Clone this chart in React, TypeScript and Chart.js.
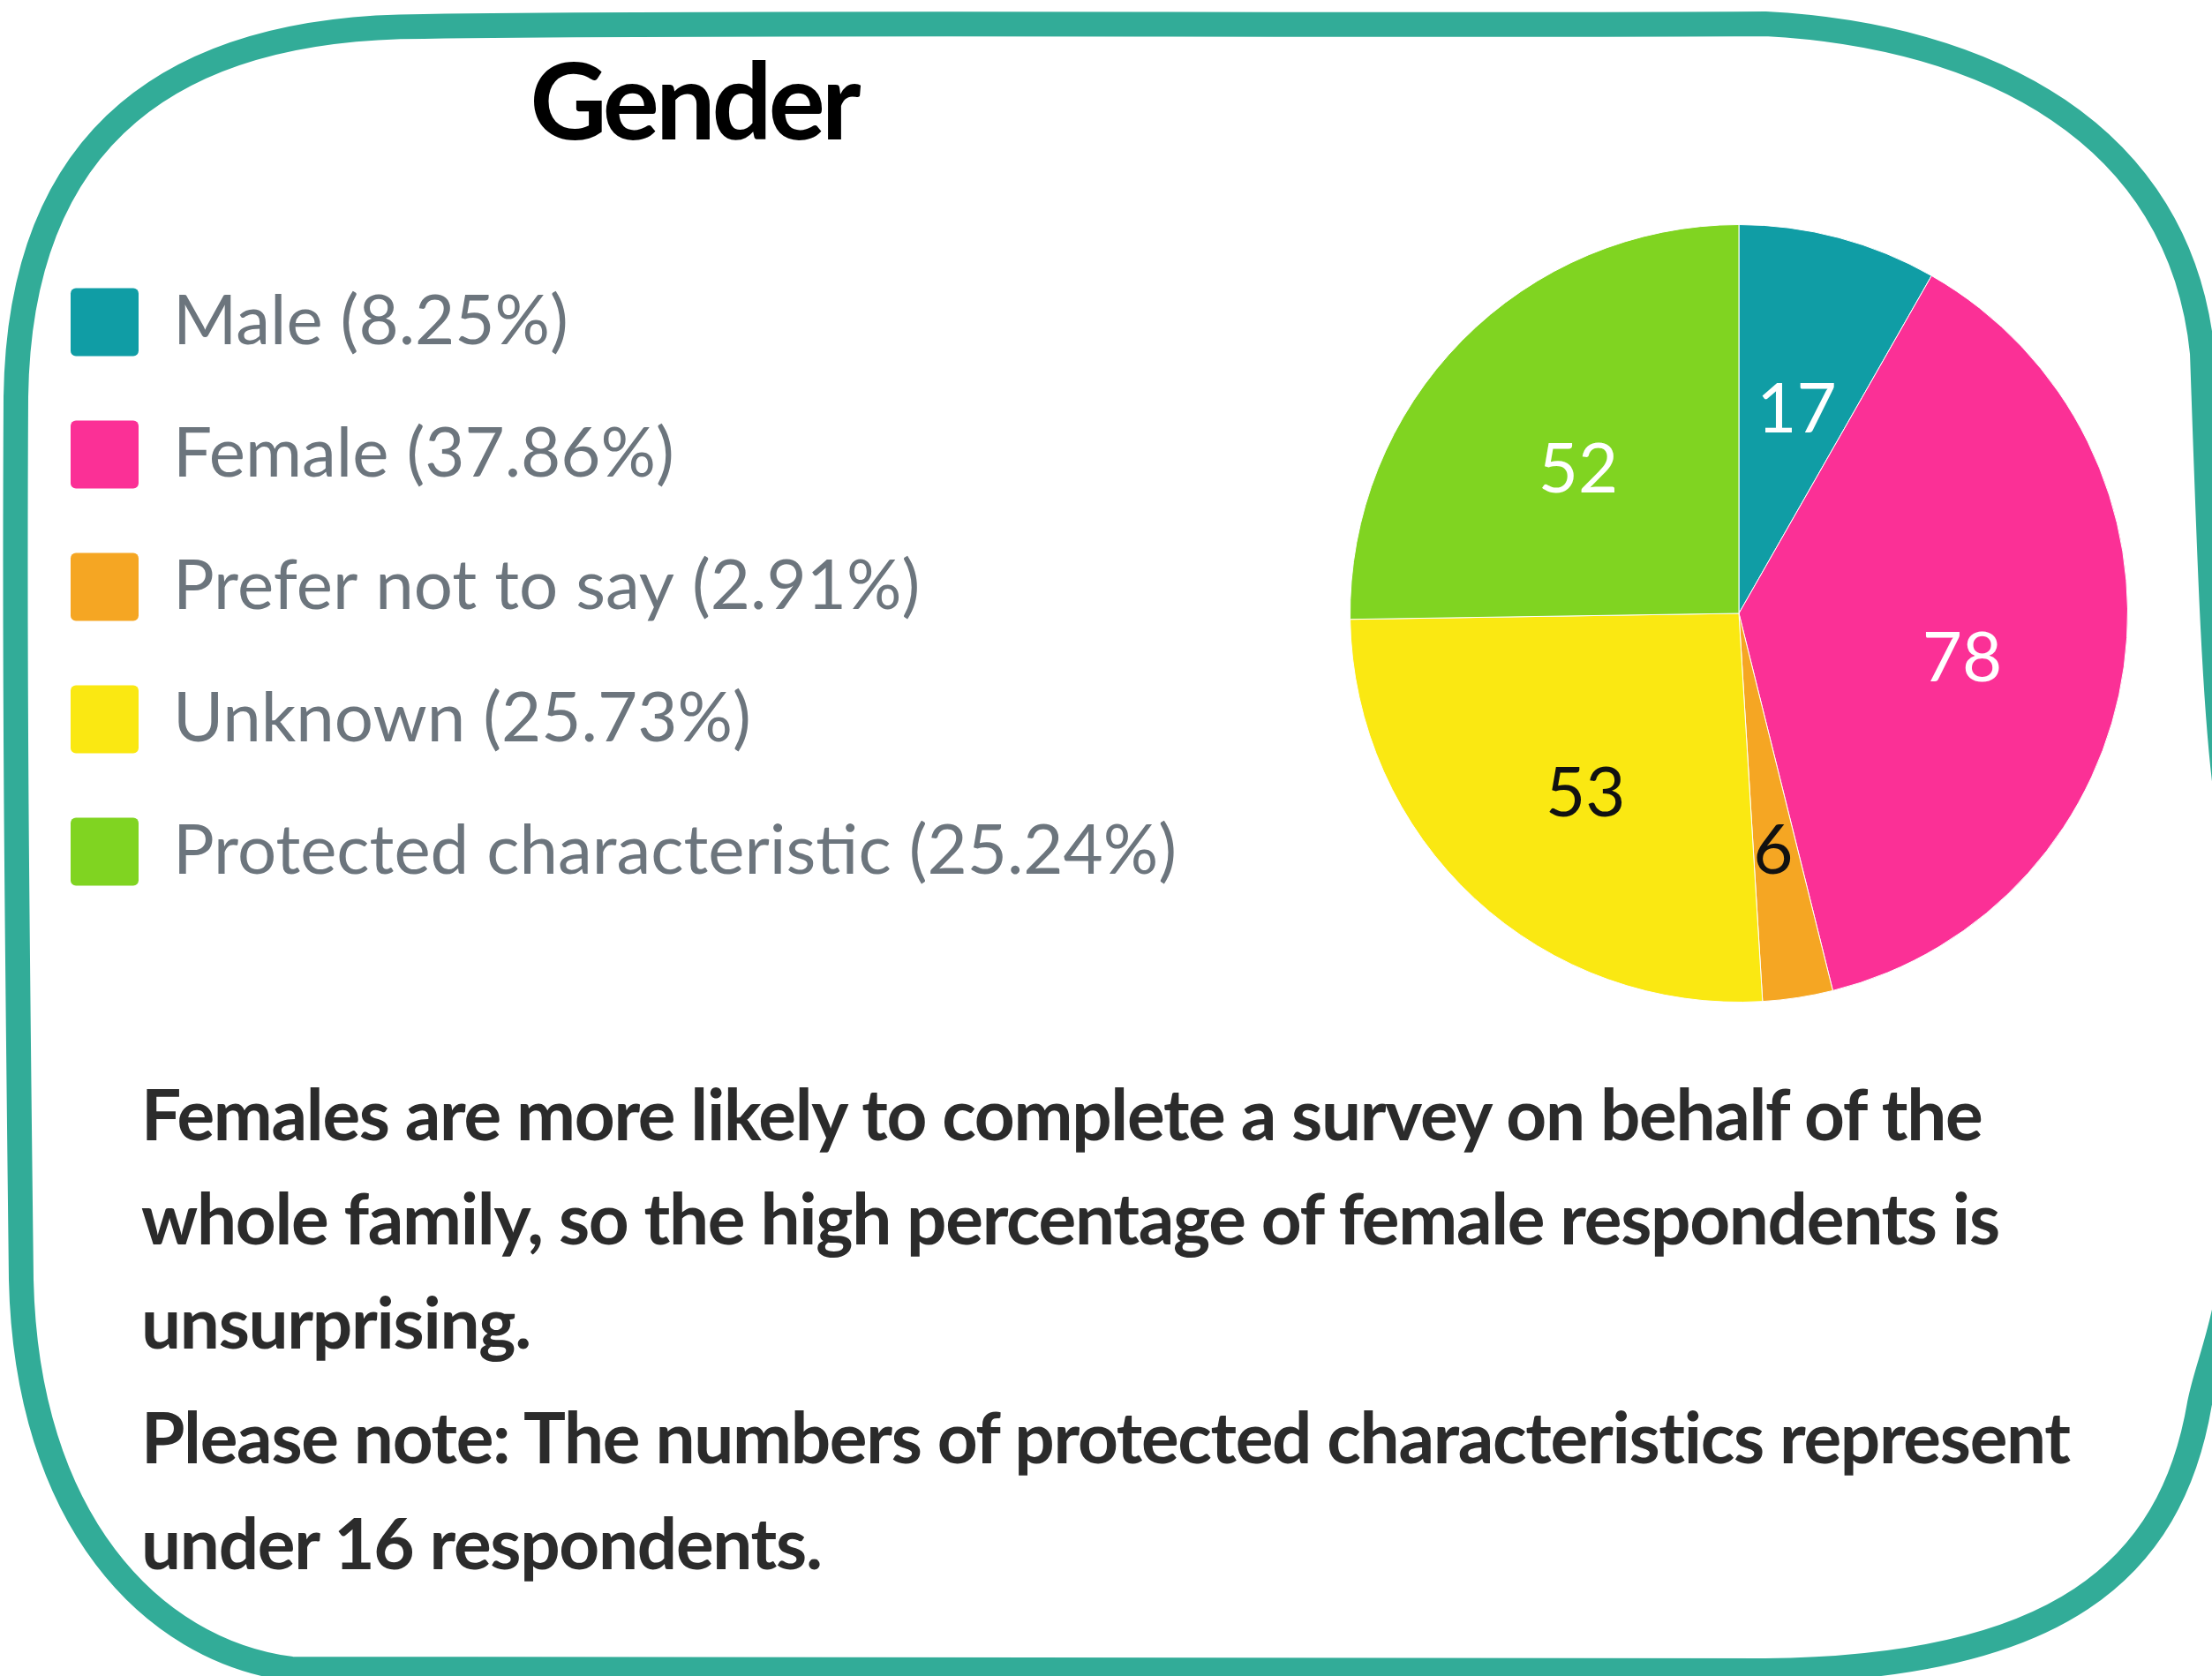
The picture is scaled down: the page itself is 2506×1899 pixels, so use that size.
import React, { useEffect, useRef } from 'react';
import { Chart, registerables } from 'chart.js';

Chart.register(...registerables);

// ---- data ----
const categories = ['Male', 'Female', 'Prefer not to say', 'Unknown', 'Protected characteristic'];
const counts = [17, 78, 6, 53, 52];
const percentages = ['8.25%', '37.86%', '2.91%', '25.73%', '25.24%'];
const sliceColors = ['#109da5', '#fb3096', '#f5a623', '#fae812', '#80d421'];
const valueTextColors = ['#ffffff', '#ffffff', '#111111', '#111111', '#ffffff'];
const titleText = 'Gender';
const noteParagraph1 = [
  'Females are more likely to complete a survey on behalf of the',
  'whole family, so the high percentage of female respondents is',
  'unsurprising.',
];
const noteParagraph2 = [
  'Please note: The numbers of protected characteristics represent',
  'under 16 respondents.',
];

// ---- styling ----
const W = 2506;
const H = 1899;
const FRAME_COLOR = '#32ac98';
const LEGEND_TEXT = '#6c757d';
const LEGEND_WIDTH = 1426;
const FONT = 'Lato, "Open Sans", sans-serif';

const framePlugin = {
  id: 'handFrame',
  beforeDraw(chart: any) {
    const ctx = chart.ctx;
    ctx.save();
    ctx.fillStyle = '#ffffff';
    ctx.fillRect(0, 0, chart.width, chart.height);
    ctx.strokeStyle = FRAME_COLOR;
    ctx.lineWidth = 28;
    ctx.lineJoin = 'round';
    ctx.lineCap = 'round';
    ctx.beginPath();
    ctx.moveTo(18, 450);
    ctx.bezierCurveTo(22, 150, 200, 30, 480, 30);
    ctx.bezierCurveTo(900, 24, 1500, 30, 2000, 27);
    ctx.bezierCurveTo(2250, 40, 2470, 150, 2495, 400);
    ctx.bezierCurveTo(2502, 600, 2508, 800, 2522, 900);
    ctx.bezierCurveTo(2535, 1100, 2535, 1300, 2525, 1460);
    ctx.bezierCurveTo(2515, 1520, 2500, 1550, 2492, 1590);
    ctx.bezierCurveTo(2460, 1780, 2330, 1890, 2000, 1893);
    ctx.bezierCurveTo(1400, 1893, 800, 1893, 330, 1891);
    ctx.bezierCurveTo(170, 1870, 30, 1720, 24, 1450);
    ctx.bezierCurveTo(20, 1100, 16, 800, 18, 450);
    ctx.stroke();
    ctx.restore();
  },
};

const legendWidthPlugin = {
  id: 'legendWidth',
  beforeLayout(chart: any) {
    const legend = chart.legend;
    if (legend && !legend.__fixedWidth) {
      const orig = legend.fit.bind(legend);
      legend.fit = function () {
        orig();
        this.width = LEGEND_WIDTH;
      };
      legend.__fixedWidth = true;
    }
  },
};

const valueLabelPlugin = {
  id: 'valueLabels',
  afterDatasetsDraw(chart: any) {
    const ctx = chart.ctx;
    const meta = chart.getDatasetMeta(0);
    ctx.save();
    ctx.font = `78px ${FONT}`;
    ctx.textAlign = 'center';
    ctx.textBaseline = 'middle';
    meta.data.forEach((arc: any, i: number) => {
      const p = arc.getProps(['x', 'y', 'startAngle', 'endAngle', 'outerRadius'], true);
      const mid = (p.startAngle + p.endAngle) / 2;
      const r = p.outerRadius * 0.58;
      ctx.fillStyle = valueTextColors[i];
      ctx.fillText(String(counts[i]), p.x + Math.cos(mid) * r, p.y + Math.sin(mid) * r + 17);
    });
    ctx.restore();
  },
};

export default function App() {
  const canvasRef = useRef<HTMLCanvasElement | null>(null);

  useEffect(() => {
    if (!canvasRef.current) return;
    const chart = new Chart(canvasRef.current, {
      type: 'pie',
      data: {
        labels: categories,
        datasets: [
          {
            data: counts,
            backgroundColor: sliceColors,
            borderColor: '#ffffff',
            borderWidth: 1,
          },
        ],
      },
      options: {
        animation: false,
        responsive: false,
        maintainAspectRatio: false,
        layout: { padding: { left: 8, top: 254, right: 0, bottom: 763 } },
        plugins: {
          title: { display: false },
          tooltip: { enabled: false },
          legend: {
            display: true,
            position: 'left',
            align: 'start',
            labels: {
              boxWidth: 77,
              boxHeight: 77,
              padding: 72,
              color: LEGEND_TEXT,
              font: { family: FONT, size: 78, weight: 'normal' },
              useBorderRadius: true,
              borderRadius: 6,
              generateLabels: (c: any) =>
                categories.map((name, i) => ({
                  text: `${name} (${percentages[i]})`,
                  fillStyle: sliceColors[i],
                  strokeStyle: sliceColors[i],
                  fontColor: LEGEND_TEXT,
                  lineWidth: 0,
                  hidden: !c.getDataVisibility(i),
                  index: i,
                  borderRadius: 6,
                })),
            },
          },
        },
      } as any,
      plugins: [framePlugin, legendWidthPlugin, valueLabelPlugin],
    });
    return () => chart.destroy();
  }, []);

  const textStyle: React.CSSProperties = {
    position: 'absolute',
    left: 160,
    fontFamily: FONT,
    fontWeight: 700,
    fontSize: 80,
    color: '#2b2b2b',
    whiteSpace: 'nowrap',
    letterSpacing: '-1.3px',
    margin: 0,
  };

  return (
    <div style={{ position: 'absolute', left: 0, top: 0, width: W, height: H, overflow: 'hidden', background: '#fff' }}>
      <canvas ref={canvasRef} width={W} height={H} style={{ position: 'absolute', left: 0, top: 0, width: W, height: H }} />
      <div
        style={{
          position: 'absolute',
          left: 0,
          top: 52,
          width: 1572,
          textAlign: 'center',
          fontFamily: FONT,
          fontWeight: 700,
          fontSize: 120,
          lineHeight: '120px',
          letterSpacing: '-4px',
          color: '#000',
        }}
      >
        {titleText}
      </div>
      <div style={{ ...textStyle, top: 1202, lineHeight: '118px' }}>
        {noteParagraph1.map((l, i) => (
          <div key={i}>{l}</div>
        ))}
      </div>
      <div style={{ ...textStyle, top: 1567, lineHeight: '120px' }}>
        {noteParagraph2.map((l, i) => (
          <div key={i}>{l}</div>
        ))}
      </div>
    </div>
  );
}
